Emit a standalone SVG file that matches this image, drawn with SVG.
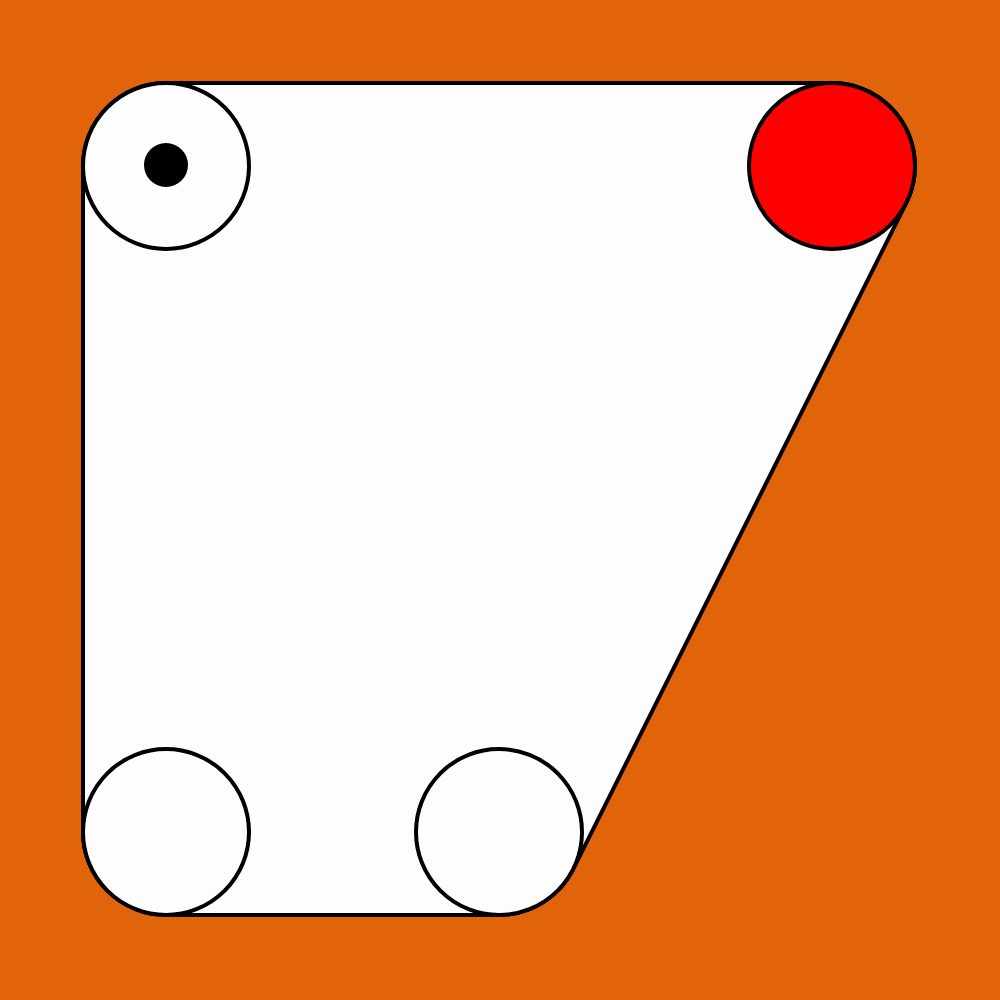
<svg xmlns="http://www.w3.org/2000/svg" width="1000" height="1000" viewBox="0 0 1000 1000">
<style>
.ln{stroke:#000;stroke-width:4;}
.c{fill:#fdfdfd;stroke:#000;stroke-width:4;}
</style>
<rect x="0" y="0" width="1000" height="1000" fill="#e2640a"/>
<g id="connectors">
<path class="ln" fill="#fdfdfd" d="M166,83 L832,83 A83,83 0 0 1 906.2,203.1 L573.2,869.1 A83,83 0 0 1 499,915 L166,915 A83,83 0 0 1 83,832 L83,166 A83,83 0 0 1 166,83 Z"/>
</g>
<g id="n1"><circle class="c" cx="166" cy="166" r="83"/><circle cx="166" cy="165" r="22" fill="#000"/></g>
<g id="n2"><circle class="c" cx="832" cy="166" r="83" style="fill:#ff0000"/></g>
<g id="n3"><circle class="c" cx="166" cy="832" r="83"/></g>
<g id="n4"><circle class="c" cx="499" cy="832" r="83"/></g>
</svg>
